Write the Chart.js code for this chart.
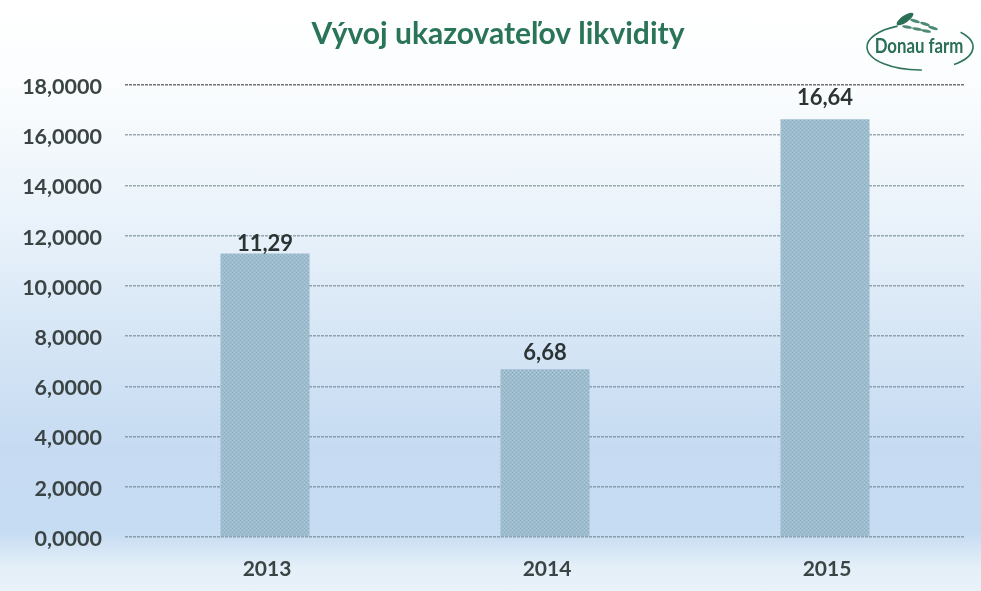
<!DOCTYPE html>
<html><head><meta charset="utf-8">
<style>html,body{margin:0;padding:0;background:#fff}#w{position:relative;width:981px;height:591px;background:linear-gradient(180deg,#ffffff 0%,#fbfdfe 14%,#e9f2fa 38%,#d5e5f5 58%,#c6dbf2 76%,#c6dcf2 90%,#e4eff8 96%,#e8f2f9 100%);overflow:hidden}canvas{position:absolute;left:0;top:0}</style>
<script src="https://cdn.jsdelivr.net/npm/chart.js@4"></script></head>
<body><div id="w"><canvas id="c" width="981" height="591"></canvas></div>
<script>
const categories=['2013','2014','2015'];
const seriesValues=[11.29,6.68,16.64];
const valueLabels=['11,29','6,68','16,64'];
const labelGaps=[10,16,21];
const tickValues=[0,2,4,6,8,10,12,14,16,18];
const titleText='Vývoj ukazovateľov likvidity';
const logoText='Donau farm';
const FONT='Lato';
function barPattern(){const p=document.createElement('canvas');p.width=4;p.height=4;const x=p.getContext('2d');x.fillStyle='#9dbccd';x.fillRect(0,0,4,4);x.fillStyle='#8badc1';x.fillRect(0,0,1,1);x.fillRect(2,2,1,1);x.fillStyle='#b0cbd8';x.fillRect(2,0,1,1);x.fillRect(0,2,1,1);return x.createPattern(p,'repeat');}
const deco={id:'deco',afterDatasetsDraw(ch){const c=ch.ctx,m=ch.getDatasetMeta(0);c.save();
c.font='bold 22px '+FONT;c.fillStyle='#2b3333';c.textAlign='center';c.textBaseline='middle';
m.data.forEach((b,i)=>c.fillText(valueLabels[i],b.x,b.y-labelGaps[i]));
c.font='bold 30px '+FONT;c.fillStyle='#2a7458';c.fillText(titleText,498,34);
const d=Math.PI/180;
c.strokeStyle='#2f7458';c.lineWidth=1.6;
c.beginPath();c.ellipse(920,47,53,23,0,88*d,245*d);c.stroke();
c.beginPath();c.ellipse(920,47,53,23,0,-40*d,50*d);c.stroke();
c.fillStyle='#2a7055';
c.beginPath();c.ellipse(905,19,10,3.5,-0.6,0,Math.PI*2);c.fill();
c.fillStyle='#4f8a72';
for(const [x,y,r] of [[915,21,0.3],[925,24,0.3],[933,28,0.3],[907,27,0.2],[917,29,0.2],[926,31,0.2]]){c.beginPath();c.ellipse(x,y,5,1.5,r,0,Math.PI*2);c.fill();}
c.fillStyle='#2a7055';c.font='bold 21px '+FONT;c.translate(919,46);c.scale(0.8,1);c.fillText(logoText,0,0);c.restore();}};
new Chart(document.getElementById('c'),{type:'bar',data:{labels:categories,datasets:[{data:seriesValues,backgroundColor:barPattern(),categoryPercentage:1,barPercentage:0.318}]},
options:{responsive:false,animation:false,layout:{padding:{left:0,right:16,top:85,bottom:0}},
plugins:{legend:{display:false},tooltip:{enabled:false},title:{display:false}},
scales:{x:{afterFit(a){a.height=54;},grid:{display:false},border:{display:false},ticks:{color:'#3b4444',font:{family:FONT,size:21,weight:'bold'},padding:12,labelOffset:2}},
y:{min:0,max:18,afterFit(a){a.width=125;},afterBuildTicks(a){a.ticks=tickValues.map(v=>({value:v}));},grid:{color:c=>c.tick.value===18?'rgba(90,90,90,0.85)':'rgba(80,105,115,0.55)',lineWidth:1.5,drawTicks:false},border:{display:false,dash:[3,1]},ticks:{color:'#3b4444',font:{family:FONT,size:21.5,weight:'bold'},padding:23,labelOffset:2,callback:v=>v.toFixed(4).replace('.',',')}}}},plugins:[deco]});
</script></body></html>
